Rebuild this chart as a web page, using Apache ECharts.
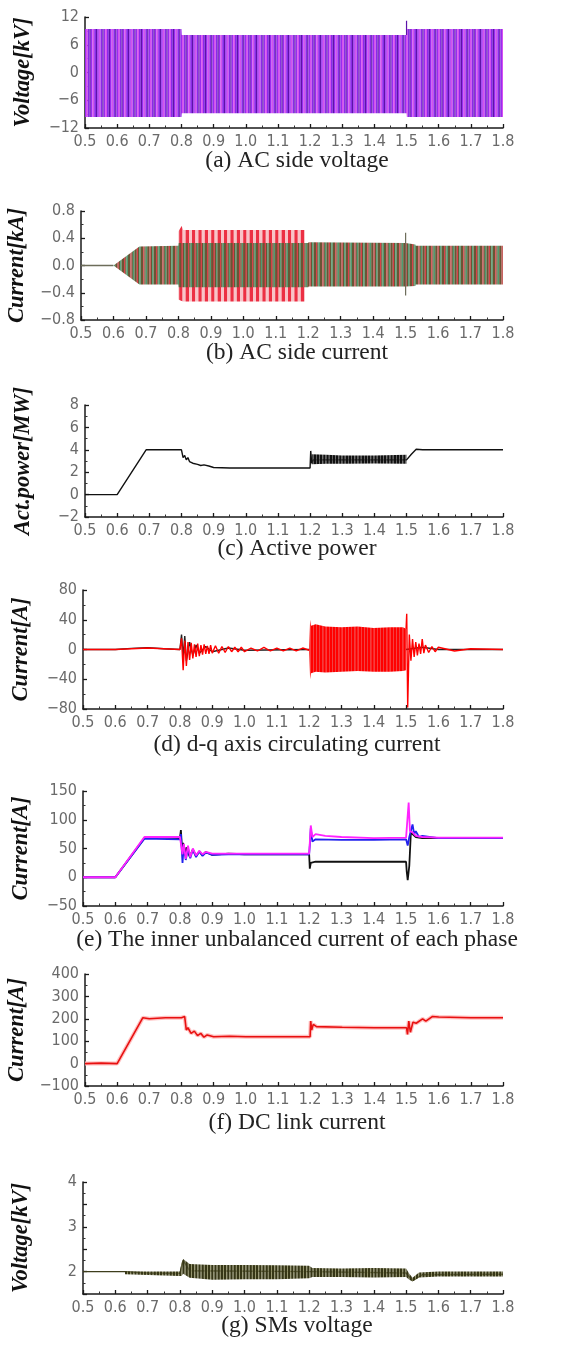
<!DOCTYPE html>
<html><head><meta charset="utf-8">
<script src="https://cdn.jsdelivr.net/npm/echarts@6/dist/echarts.min.js"></script>
<style>html,body{margin:0;padding:0;background:#fff}#c{width:568px;height:1345px}</style>
</head><body><div id="c"></div>
<script>
// ---------- shared axis values ----------
const xRange = [0.5, 1.8, 0.1];
// [min, max, interval] of each panel's y axis
const yRangeA = [-12, 12, 6];
const yRangeB = [-0.8, 0.8, 0.4];
const yRangeC = [-2, 8, 2];
const yRangeD = [-80, 80, 40];
const yRangeE = [-50, 150, 50];
const yRangeF = [-100, 400, 100];
const yRangeG = [1.5, 4, 0.5];
const yNames = ['Voltage[kV]', 'Current[kA]', 'Act.power[MW]', 'Current[A]', 'Current[A]', 'Current[A]', 'Voltage[kV]'];
const captions = ['(a) AC side voltage', '(b) AC side current', '(c) Active power', '(d) d-q axis circulating current',
  '(e) The inner unbalanced current of each phase', '(f) DC link current', '(g) SMs voltage'];

// ---------- (a) AC side voltage : envelope of the three-phase band ----------
const acVoltT   = [0.5, 0.8, 0.801, 1.5, 1.501, 1.8];
const acVoltUp  = [9.4, 9.4, 8.1, 8.1, 9.4, 9.4];
const acVoltLow = [-9.6, -9.6, -8.8, -8.8, -9.6, -9.6];
const acVoltSpikeT = [1.5, 1.5];
const acVoltSpikeV = [8.1, 11.2];

// ---------- (b) AC side current ----------
const acCurZeroT = [0.5, 0.6];
const acCurZeroV = [0, 0];
const acCurT   = [0.6, 0.68, 0.8, 0.801, 1.2, 1.201, 1.5, 1.53, 1.531, 1.8];
const acCurUp  = [0, 0.28, 0.29, 0.33, 0.33, 0.34, 0.33, 0.31, 0.29, 0.29];
const acCurLow = [0, -0.28, -0.28, -0.32, -0.32, -0.31, -0.31, -0.3, -0.28, -0.28];
const acRedT   = [0.8, 0.81, 0.815, 1.19];
const acRedUp  = [0.5, 0.58, 0.52, 0.52];
const acRedLow = [-0.5, -0.52, -0.53, -0.53];
const acCurSpikeT = [1.5, 1.5];
const acCurSpikeV = [-0.44, 0.48];

// ---------- (c) Active power ----------
const powerT = [0.5,0.6,0.69,0.8,0.805,0.81,0.815,0.82,0.825,0.83,0.835,0.84,0.85,0.855,0.86,0.87,0.875,0.885,0.89,0.9,0.95,1.0,1.1,1.2,1.202,1.205,1.21,1.5,1.515,1.53,1.55,1.8];
const powerV = [0,0,4,4,3.3,3.5,3.1,3.3,2.95,3.1,2.8,2.95,2.7,2.8,2.6,2.65,2.5,2.55,2.45,2.42,2.38,2.38,2.38,2.38,3.9,2.8,3.1,3.1,3.6,4.05,4.0,4.0];
const powerBandT   = [1.205, 1.25, 1.3, 1.4, 1.5];
const powerBandUp  = [3.6, 3.55, 3.5, 3.5, 3.55];
const powerBandLow = [2.7, 2.75, 2.75, 2.78, 2.75];

// ---------- (d) d-q axis circulating current ('-' = gap) ----------
const dqBlackT = [0.5,0.6,0.65,0.7,0.75,0.8,0.805,0.81,0.815,0.82,0.83,0.84,0.85,0.86,0.88,0.9,0.95,1.0,1.2,1.35,1.5,1.55,1.6,1.8];
const dqBlackV = [0,0,1.5,2.5,1,0,20,-10,18,-15,10,-8,6,-5,4,-3,2,-1,0,'-',0,3,0,0];
const dqRedT = [0.5,0.6,0.65,0.7,0.75,0.8,0.805,0.81,0.815,0.82,0.825,0.83,0.835,0.84,0.845,0.85,0.855,0.86,0.865,0.87,0.875,0.88,0.885,0.89,0.895,0.9,0.91,0.92,0.93,0.94,0.95,0.96,0.97,0.98,0.99,1.0,1.02,1.04,1.06,1.08,1.1,1.12,1.14,1.16,1.18,1.2,1.35,1.5,1.502,1.505,1.51,1.515,1.52,1.525,1.53,1.535,1.54,1.545,1.55,1.555,1.56,1.57,1.58,1.59,1.6,1.65,1.7,1.8];
const dqRedV = [0,0,1,2,1,0,15,-28,12,-22,10,-14,9,-12,7,-10,8,-9,6,-7,7,-6,5,-6,6,-5,5,-5,4,-4,4,-3,3,-3,3,-3,2,-2,3,-2,2,-2,2,-2,2,-1,'-',28,48,-78,20,-15,14,-10,10,-8,8,-6,14,-5,6,-4,4,-3,3,-2,1,0];
const dqBandT   = [1.2, 1.203, 1.206, 1.22, 1.25, 1.3, 1.35, 1.4, 1.45, 1.49, 1.5];
const dqBandUp  = [5, 40, 32, 34, 31, 30, 31, 29, 30, 30, 28];
const dqBandLow = [-5, -40, -32, -30, -31, -30, -29, -30, -30, -29, -28];

// ---------- (e) inner unbalanced current of each phase ----------
const eBlackT = [0.5,0.6,0.69,0.7,0.75,0.8,0.803,0.807,0.81,0.815,0.82,0.83,0.84,0.85,0.86,0.87,0.88,0.9,0.95,1.0,1.1,1.2,1.202,1.205,1.21,1.22,1.3,1.4,1.5,1.502,1.505,1.51,1.515,1.52,1.53,1.55,1.6,1.8];
const eBlackV = [0,0,68,70,69,68,82,45,60,38,52,36,48,37,45,38,44,39,41,40,40,40,15,25,22,27,27,27,27,10,-5,20,80,75,70,68,68,68];
const eBlueT = [0.5,0.6,0.69,0.8,0.803,0.808,0.812,0.818,0.825,0.832,0.84,0.85,0.86,0.87,0.88,0.9,0.95,1.2,1.202,1.205,1.21,1.22,1.3,1.4,1.5,1.505,1.51,1.52,1.525,1.53,1.54,1.55,1.6,1.8];
const eBlueV = [0,0,67,66,75,25,55,30,50,33,48,35,45,37,43,39,40,40,55,85,62,66,65,65,66,55,70,92,75,80,70,72,68,68];
const eMagT = [0.5,0.6,0.69,0.8,0.803,0.808,0.812,0.818,0.825,0.832,0.84,0.85,0.86,0.87,0.88,0.9,0.95,1.2,1.202,1.205,1.21,1.22,1.25,1.3,1.4,1.5,1.505,1.508,1.512,1.52,1.53,1.55,1.6,1.8];
const eMagV = [0,0,70,70,72,40,58,32,55,35,50,38,46,40,44,41,41,41,60,90,70,75,72,70,68,69,70,130,80,78,72,70,69,69];

// ---------- (f) DC link current ----------
const dcT = [0.5,0.55,0.6,0.68,0.7,0.75,0.8,0.81,0.815,0.82,0.83,0.84,0.85,0.86,0.87,0.88,0.9,0.95,1.0,1.1,1.2,1.202,1.205,1.21,1.22,1.3,1.4,1.5,1.503,1.507,1.512,1.52,1.53,1.55,1.56,1.58,1.6,1.7,1.8];
const dcV = [0,2,0,205,200,205,205,210,150,160,135,145,125,135,118,128,120,122,120,120,120,190,150,175,165,162,160,160,130,190,140,185,180,200,190,210,208,205,205];

// ---------- (g) SMs voltage ----------
const smLineT = [0.5, 0.63, 0.7, 0.8, 0.81, 0.83, 1.2, 1.5, 1.52, 1.55, 1.8];
const smLineV = [2, 2, 1.97, 1.96, 2.25, 2.02, 2.0, 1.97, 1.8, 1.93, 1.94];
const smT   = [0.63, 0.8, 0.805, 0.81, 0.83, 0.9, 1.0, 1.1, 1.2, 1.21, 1.3, 1.4, 1.5, 1.51, 1.52, 1.54, 1.6, 1.7, 1.8];
const smUp  = [2.0, 2.0, 2.2, 2.28, 2.17, 2.15, 2.15, 2.14, 2.13, 2.08, 2.07, 2.08, 2.07, 1.95, 1.86, 1.98, 2.0, 2.0, 2.0];
const smLow = [1.94, 1.9, 1.9, 1.95, 1.86, 1.82, 1.83, 1.83, 1.85, 1.88, 1.88, 1.87, 1.88, 1.82, 1.78, 1.87, 1.89, 1.89, 1.89];

// ---------- layout ----------
const grids = [
  {left: 85, top: 17, height: 111},
  {left: 81, top: 211, height: 109},
  {left: 85, top: 405, height: 112},
  {left: 83, top: 590, height: 119},
  {left: 83, top: 791, height: 115},
  {left: 85, top: 974, height: 112},
  {left: 83, top: 1182, height: 112}
];
const RIGHT = 503;
const captionPos = [[297, 161], [297, 353], [297, 549], [297, 745], [297, 940], [297, 1123], [297, 1326]];

// ---------- stripe textures (style only) ----------
function makePattern(spec, reps) {
  const period = spec.reduce((s, p) => s + p[1], 0);
  const w = Math.round(period * reps);
  const c = document.createElement('canvas');
  c.width = w; c.height = 4;
  const ctx = c.getContext('2d');
  const k = w / (period * reps);
  let x = 0;
  for (let r = 0; r < reps; r++) {
    for (const [col, wd] of spec) {
      ctx.fillStyle = col; ctx.fillRect(x * k, 0, wd * k, 4); x += wd;
    }
  }
  return {image: c, repeat: 'repeat'};
}
const pattA = makePattern([['#5c14a8', 1.2], ['#9a2cf0', 1.6], ['#d451ee', 1.8], ['#8a2ae8', 1.8]], 5);
const pattB = makePattern([['#6a5535', 2.4], ['#d8424a', 1.2], ['#6a5535', 1.3], ['#4f9c70', 1.5]], 5);
const pattBred = makePattern([['#ec2f43', 3.4], ['#f8c3c8', 3.0]], 5);
const pattC = makePattern([['#111111', 2.4], ['#555555', 0.8]], 10);
const pattD = makePattern([['#ff0000', 2.6], ['#e20000', 0.6]], 10);
const pattG = makePattern([['#363616', 2.3], ['#8c8c60', 0.9]], 10);

// ---------- builders ----------
const labelFont = "'Liberation Sans Narrow', 'DejaVu Sans Condensed', 'Liberation Sans', Arial, sans-serif";
const minus = s => String(s).replace('-', '\u2212');

function xAxisCfg(i) {
  return {
    type: 'value', gridIndex: i, min: xRange[0], max: xRange[1], interval: xRange[2],
    axisLine: {show: true, onZero: false, lineStyle: {color: '#1a1a1a', width: 1.5}},
    axisTick: {show: true, inside: true, length: 4, lineStyle: {color: '#1a1a1a', width: 1.3}},
    minorTick: {show: true, splitNumber: 2, length: 2.5, lineStyle: {color: '#333', width: 1}},
    splitLine: {show: false},
    axisLabel: {formatter: v => v.toFixed(1), color: '#6a6a6a', fontSize: 16, fontFamily: labelFont, margin: 6}
  };
}
function yAxisCfg(i, range, fmt) {
  return {
    type: 'value', gridIndex: i, min: range[0], max: range[1], interval: range[2],
    name: yNames[i], nameLocation: 'middle', nameGap: 50,
    nameTextStyle: {fontFamily: "'Liberation Serif', 'Times New Roman', serif", fontWeight: 'bold', fontStyle: 'italic', fontSize: 22.5, color: '#111'},
    axisLine: {show: true, onZero: false, lineStyle: {color: '#1a1a1a', width: 1.5}},
    axisTick: {show: true, inside: true, length: 4, lineStyle: {color: '#1a1a1a', width: 1.3}},
    minorTick: {show: true, splitNumber: 2, length: 2.5, lineStyle: {color: '#333', width: 1}},
    splitLine: {show: false},
    axisLabel: {formatter: fmt, color: '#6a6a6a', fontSize: 16, fontFamily: labelFont, margin: 6}
  };
}
function lineSeries(gi, T, V, color, width, z) {
  return {
    type: 'line', xAxisIndex: gi, yAxisIndex: gi, data: T.map((t, i) => [t, V[i]]),
    symbol: 'none', animation: false, silent: true, z: z || 3, connectNulls: false,
    lineStyle: {color: color, width: width}, clip: true
  };
}
function bandSeries(gi, T, up, low, fill, z) {
  return {
    type: 'custom', xAxisIndex: gi, yAxisIndex: gi, coordinateSystem: 'cartesian2d',
    data: T.map((t, i) => [t, up[i], low[i]]), animation: false, silent: true, z: z || 2, clip: true,
    renderItem: (params, api) => {
      if (params.dataIndex !== 0) return null;
      const pts = [];
      for (let i = 0; i < T.length; i++) pts.push(api.coord([T[i], up[i]]));
      for (let i = T.length - 1; i >= 0; i--) pts.push(api.coord([T[i], low[i]]));
      return {type: 'polygon', shape: {points: pts}, style: {fill: fill, stroke: null}};
    }
  };
}

const option = {
  backgroundColor: '#fff',
  animation: false,
  grid: grids.map(g => ({left: g.left, top: g.top, width: RIGHT - g.left, height: g.height, containLabel: false, outerBoundsMode: 'none'})),
  xAxis: grids.map((g, i) => xAxisCfg(i)),
  yAxis: [
    yAxisCfg(0, yRangeA, v => minus(v)),
    yAxisCfg(1, yRangeB, v => minus(v.toFixed(1))),
    yAxisCfg(2, yRangeC, v => minus(v)),
    yAxisCfg(3, yRangeD, v => minus(v)),
    yAxisCfg(4, yRangeE, v => minus(v)),
    yAxisCfg(5, yRangeF, v => minus(v)),
    yAxisCfg(6, yRangeG, v => Number.isInteger(v) ? String(v) : '')
  ],
  series: [
    // (a)
    bandSeries(0, acVoltT, acVoltUp, acVoltLow, pattA, 2),
    lineSeries(0, acVoltSpikeT, acVoltSpikeV, '#5c14a8', 1.2, 3),
    // (b)
    lineSeries(1, acCurZeroT, acCurZeroV, '#6d6d5a', 1.5, 3),
    bandSeries(1, acRedT, acRedUp, acRedLow, pattBred, 2),
    bandSeries(1, acCurT, acCurUp, acCurLow, pattB, 3),
    lineSeries(1, acCurSpikeT, acCurSpikeV, '#6d6d5a', 1.2, 4),
    // (c)
    lineSeries(2, powerT, powerV, '#111', 1.4, 3),
    bandSeries(2, powerBandT, powerBandUp, powerBandLow, pattC, 4),
    // (d)
    lineSeries(3, dqBlackT, dqBlackV, '#222', 1.4, 3),
    lineSeries(3, dqRedT, dqRedV, '#ff0000', 1.4, 4),
    bandSeries(3, dqBandT, dqBandUp, dqBandLow, pattD, 5),
    // (e)
    lineSeries(4, eBlackT, eBlackV, '#111', 1.8, 3),
    lineSeries(4, eBlueT, eBlueV, '#2222ee', 1.8, 4),
    lineSeries(4, eMagT, eMagV, '#ff22ff', 1.8, 5),
    // (f)
    lineSeries(5, dcT, dcV, '#ffc0c0', 4, 2),
    lineSeries(5, dcT, dcV, '#e81010', 1.6, 3),
    // (g)
    lineSeries(6, smLineT, smLineV, '#3e3e1c', 1.4, 3),
    bandSeries(6, smT, smUp, smLow, pattG, 4)
  ],
  graphic: captions.map((t, i) => ({
    type: 'text', x: captionPos[i][0], y: captionPos[i][1], silent: true,
    style: {text: t, fontSize: 23.5, fontFamily: "'Liberation Serif', 'Times New Roman', serif", fill: '#222', align: 'center', verticalAlign: 'middle'}
  }))
};

const chart = echarts.init(document.getElementById('c'), null, {renderer: 'canvas'});
chart.setOption(option);
</script>
</body></html>
